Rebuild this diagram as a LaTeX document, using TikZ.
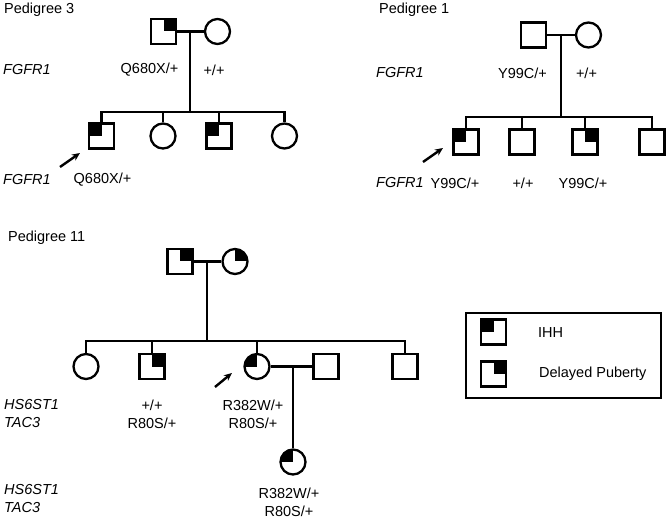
\documentclass[tikz,border=0pt]{standalone}
\usepackage{fontspec}
\setmainfont{Liberation Sans}
\usetikzlibrary{arrows.meta}
\tikzset{male/.style={draw, rectangle, minimum size=25pt, inner sep=0pt},
  female/.style={draw, circle, minimum size=25pt, inner sep=0pt},
  ihh/.style={path picture={\fill (path picture bounding box.center) rectangle (path picture bounding box.north west);}},
  late/.style={path picture={\fill (path picture bounding box.center) rectangle (path picture bounding box.north east);}},
  txt/.style={font=\fontsize{14.5}{18}\selectfont, inner sep=0pt, align=center},
  gene/.style={txt, font=\fontsize{14.5}{18}\selectfont\itshape, anchor=west, align=left},
  proband/.style={-{Stealth[length=8pt,width=7pt]}, line width=2.4pt}}

\begin{document}
\begin{tikzpicture}[x=1pt, y=-1pt, line width=2.3pt]
   \useasboundingbox (0,0) rectangle (666,518);
   \begin{scope}
    \node[txt, anchor=west] (p3) at (3,10) {Pedigree 3};
    \node[male, late] (p3f) at (163.5,31.5) {};
    \node[female]     (p3m) at (217.5,31.5) {};
    \coordinate (p3a) at (190,31.5);
    \coordinate (p3b) at (190,112);
    \node[male, ihh] (p3c1) at (101.5,136) {};
    \node[female]    (p3c2) at (163.0,136) {};
    \node[male, ihh] (p3c3) at (219.0,136) {};
    \node[female]    (p3c4) at (284.5,136) {};
    \draw (p3f) -- (p3m);
    \draw (p3a) -- (p3b);
    \draw (p3c1.north) |- (p3b) -| (p3c4.north);
    \draw (p3c2.north) -- (p3c2.north |- p3b);
    \draw (p3c3.north) -- (p3c3.north |- p3b);
    \node[gene] (p3g1) at (2,70) {FGFR1};
    \node[txt] (p3v1) at (149.5,70) {Q680X/+};
    \node[txt] (p3v2) at (214,70) {+/+};
    \node[gene] (p3g2) at (2,180) {FGFR1};
    \node[txt] (p3v3) at (102.5,180) {Q680X/+};
    \coordinate (p3p) at (60,167);
    \coordinate (p3q) at (80,153);
    \draw[proband] (p3p) -- (p3q);
   \end{scope}
   \begin{scope}
    \node[txt, anchor=west] (p1) at (378,10) {Pedigree 1};
    \node[male]   (p1f) at (533.5,35) {};
    \node[female] (p1m) at (588.5,35) {};
    \coordinate (p1a) at (561,35);
    \coordinate (p1b) at (561,117);
    \node[male, ihh]  (p1c1) at (466,142) {};
    \node[male]       (p1c2) at (522,142) {};
    \node[male, late] (p1c3) at (585,142) {};
    \node[male]       (p1c4) at (652,142) {};
    \draw (p1f) -- (p1m);
    \draw (p1a) -- (p1b);
    \draw (p1c1.north) |- (p1b) -| (p1c4.north);
    \draw (p1c2.north) -- (p1c2.north |- p1b);
    \draw (p1c3.north) -- (p1c3.north |- p1b);
    \node[gene] (p1g1) at (375,73) {FGFR1};
    \node[txt] (p1v1) at (522.5,73) {Y99C/+};
    \node[txt] (p1v2) at (586.5,73) {+/+};
    \node[gene] (p1g2) at (375,183) {FGFR1};
    \node[txt] (p1v3) at (455,183) {Y99C/+};
    \node[txt] (p1v4) at (523,183) {+/+};
    \node[txt] (p1v5) at (583,183) {Y99C/+};
    \coordinate (p1p) at (423,162);
    \coordinate (p1q) at (443,148);
    \draw[proband] (p1p) -- (p1q);
   \end{scope}
   \begin{scope}
    \node[txt, anchor=west] (p11) at (7,238) {Pedigree 11};
    \node[male, late]   (p11f) at (180,261.5) {};
    \node[female, late] (p11m) at (235,261.5) {};
    \coordinate (p11a) at (207,261.5);
    \coordinate (p11b) at (207,341);
    \node[female]       (p11c1) at (86,366.5) {};
    \node[male, late]   (p11c2) at (152,366.5) {};
    \node[female, ihh]  (p11c3) at (257,366.5) {};
    \node[male]         (p11s)  at (326,366.5) {};
    \node[male]         (p11c4) at (405,366.5) {};
    \coordinate (p11d) at (293,366.5);
    \node[female, ihh]  (p11k) at (293,462) {};
    \draw (p11f) -- (p11m);
    \draw (p11a) -- (p11b);
    \draw (p11c1.north) |- (p11b) -| (p11c4.north);
    \draw (p11c2.north) -- (p11c2.north |- p11b);
    \draw (p11c3.north) -- (p11c3.north |- p11b);
    \draw (p11c3) -- (p11s);
    \draw (p11d) -- (p11k);
    \node[gene] (p11g1) at (3,414) {HS6ST1\\TAC3};
    \node[txt] (p11v1) at (152,414) {+/+\\R80S/+};
    \node[txt] (p11v2) at (253,414) {R382W/+\\R80S/+};
    \node[gene] (p11g2) at (3,498.5) {HS6ST1\\TAC3};
    \node[txt] (p11v3) at (289,502) {R382W/+\\R80S/+};
    \coordinate (p11p) at (215,387);
    \coordinate (p11q) at (232,373);
    \draw[proband] (p11p) -- (p11q);
   \end{scope}
   \begin{scope}
    \node[draw, minimum width=195pt, minimum height=85pt, inner sep=0pt] (key) at (563.5,355.5) {};
    \node[male, ihh]  (key1) at (493.5,332) {};
    \node[male, late] (key2) at (493.5,374) {};
    \node[txt, anchor=west] (key1t) at (537,333) {IHH};
    \node[txt, anchor=west] (key2t) at (538,374) {Delayed Puberty};
   \end{scope}
\end{tikzpicture}
\end{document}
